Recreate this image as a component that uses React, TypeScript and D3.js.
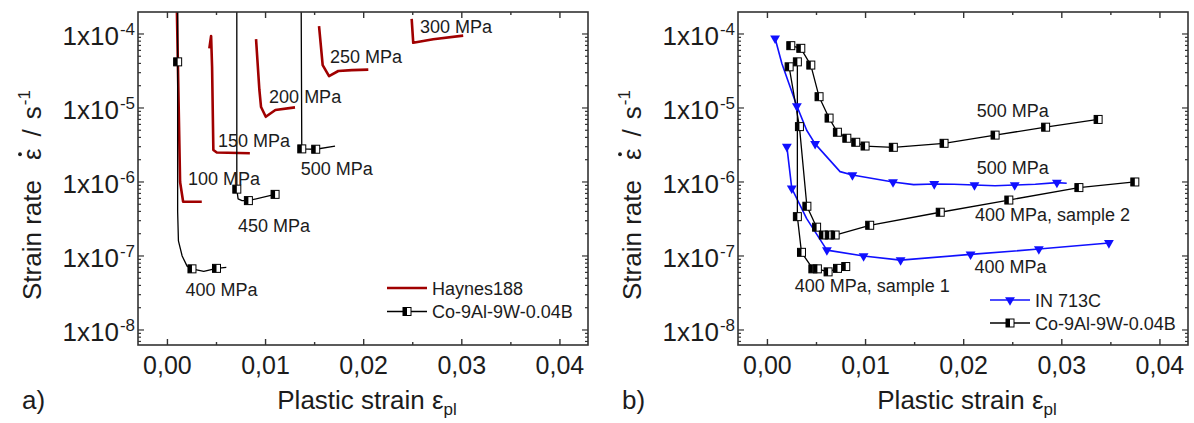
import * as React from 'react';
import * as d3 from 'd3';

const WIDTH = 1194;
const HEIGHT = 423;

// axis ticks
const xTickValues = [0, 0.01, 0.02, 0.03, 0.04];
const xTickLabels = ['0,00', '0,01', '0,02', '0,03', '0,04'];
const yTickValues = [1e-4, 1e-5, 1e-6, 1e-7, 1e-8];
const yTickExponents = ['-4', '-5', '-6', '-7', '-8'];

// a) Haynes188 (lines only)
const haynes100 = [[0.00094, 3e-4], [0.00129, 1.0e-6], [0.0016, 5.4e-7], [0.0035, 5.4e-7]];
const haynes150 = [[0.00427, 6.4e-5], [0.00445, 9.4e-5], [0.00455, 3.6e-5], [0.00468, 2.7e-6], [0.00503, 2.5e-6], [0.0084, 2.45e-6]];
const haynes200 = [[0.00903, 8.5e-5], [0.00937, 1.75e-5], [0.00954, 1.03e-5], [0.01002, 7.6e-6], [0.011, 9.4e-6], [0.013, 1.02e-5]];
const haynes250 = [[0.01545, 1.28e-4], [0.01582, 3.8e-5], [0.01647, 2.7e-5], [0.01741, 3.16e-5], [0.0188, 3.25e-5], [0.02047, 3.3e-5]];
const haynes300 = [[0.02489, 1.6e-4], [0.02505, 7.6e-5], [0.02709, 8.5e-5], [0.03014, 9.5e-5]];

// a) Co-9Al-9W-0.04B
const coA400 = [[0.00104, 5e-4], [0.00104, 4.2e-5], [0.00104, 4e-7], [0.00112, 1.6e-7], [0.0015, 1.0e-7], [0.002, 7.3e-8], [0.0025, 6.7e-8], [0.0037, 6.2e-8], [0.005, 6.8e-8], [0.006, 7.0e-8]];
const coA400Marks = [[0.00104, 4.2e-5], [0.0025, 6.7e-8], [0.005, 6.8e-8]];
const coA450 = [[0.00707, 5e-4], [0.00707, 8.0e-7], [0.0072, 5.9e-7], [0.0076, 5.6e-7], [0.00825, 5.6e-7], [0.01097, 6.8e-7]];
const coA450Marks = [[0.00707, 8.0e-7], [0.00825, 5.6e-7], [0.01097, 6.8e-7]];
const coA500 = [[0.01362, 5e-4], [0.01369, 2.8e-6], [0.01511, 2.77e-6], [0.01708, 3.06e-6]];
const coA500Marks = [[0.01369, 2.8e-6], [0.01511, 2.77e-6]];

// b) IN 713C
const in500 = [[0.00078, 8.75e-5], [0.00147, 4.0e-5], [0.003, 1.06e-5], [0.004, 5.0e-6], [0.00486, 3.27e-6], [0.0074, 1.38e-6], [0.00866, 1.24e-6], [0.0128, 1.0e-6], [0.0149, 9.2e-7], [0.017, 9.4e-7], [0.019, 9.3e-7], [0.0211, 9.1e-7], [0.0232, 8.9e-7], [0.0252, 9.1e-7], [0.0273, 9.3e-7], [0.0295, 9.8e-7], [0.0305, 9.6e-7]];
const in500Marks = [[0.00078, 8.75e-5], [0.003, 1.06e-5], [0.00486, 3.27e-6], [0.00866, 1.24e-6], [0.0128, 1.0e-6], [0.017, 9.4e-7], [0.0211, 9.1e-7], [0.0252, 9.1e-7], [0.0295, 9.8e-7]];
const in400 = [[0.00198, 3.0e-6], [0.00248, 8.2e-7], [0.004, 3.2e-7], [0.00606, 1.2e-7], [0.0098, 1.0e-7], [0.01357, 8.8e-8], [0.0207, 1.05e-7], [0.02766, 1.24e-7], [0.0348, 1.5e-7]];
const in400Marks = [[0.00198, 3.0e-6], [0.00248, 8.2e-7], [0.00606, 1.2e-7], [0.0098, 1.0e-7], [0.01357, 8.8e-8], [0.0207, 1.05e-7], [0.02766, 1.24e-7], [0.0348, 1.5e-7]];

// b) Co-9Al-9W-0.04B
const coB500 = [[0.00238, 6.95e-5], [0.0034, 6.4e-5], [0.00442, 3.8e-5], [0.00526, 1.42e-5], [0.00628, 7.3e-6], [0.00713, 4.7e-6], [0.00809, 3.9e-6], [0.009, 3.44e-6], [0.00995, 3.06e-6], [0.01283, 2.94e-6], [0.018, 3.33e-6], [0.0232, 4.3e-6], [0.02835, 5.5e-6], [0.0337, 7.0e-6]];
const coB400s1 = [[0.00305, 4.2e-5], [0.00305, 3.4e-7], [0.00347, 1.12e-7], [0.00463, 6.7e-8], [0.00509, 6.7e-8], [0.00618, 6.1e-8], [0.00714, 6.8e-8], [0.00798, 7.2e-8]];
const coB400s2 = [[0.00221, 3.6e-5], [0.00326, 5.6e-6], [0.00402, 4.7e-7], [0.00501, 2.45e-7], [0.0057, 1.92e-7], [0.0063, 1.92e-7], [0.0069, 1.92e-7], [0.01042, 2.6e-7], [0.01761, 3.9e-7], [0.0246, 5.7e-7], [0.03174, 8.4e-7], [0.03744, 1.0e-6]];

// annotations: text anchored at [strain, rate]
const notesA = [
  { text: '100 MPa', at: [0.0021, 9.1e-7] },
  { text: '150 MPa', at: [0.00516, 2.97e-6] },
  { text: '200 MPa', at: [0.01036, 1.17e-5] },
  { text: '250 MPa', at: [0.01657, 4.05e-5] },
  { text: '300 MPa', at: [0.02573, 1.03e-4] },
  { text: '400 MPa', at: [0.00185, 2.9e-8] },
  { text: '450 MPa', at: [0.0072, 2.1e-7] },
  { text: '500 MPa', at: [0.01358, 1.24e-6] },
];
const notesB = [
  { text: '500 MPa', at: [0.02132, 7.6e-6] },
  { text: '500 MPa', at: [0.02132, 1.28e-6] },
  { text: '400 MPa, sample 2', at: [0.02115, 2.97e-7] },
  { text: '400 MPa', at: [0.0211, 5.8e-8] },
  { text: '400 MPa, sample 1', at: [0.00278, 3.3e-8] },
];

const FONT = "'Liberation Sans', Arial, sans-serif";
const RED = '#a00000';
const BLUE = '#1010ff';
const AXIS = '#333';
const TEXT = '#1c1c1c';
const TOP = 12;
const BOTTOM = 345;
const PW = 450;

const App = () => {
  const ref = React.useRef(null);

  React.useEffect(() => {
    const svg = d3.select(ref.current);
    svg.selectAll('*').remove();

    const drawPanel = (left, id, label, draw) => {
      const x = d3.scaleLinear().domain([-0.003, 0.04286]).range([left, left + PW]);
      const y = d3.scaleLog().domain([Math.pow(10, -8.203), Math.pow(10, -3.703)]).range([BOTTOM, TOP]);
      const line = d3.line().x(d => x(d[0])).y(d => y(d[1]));

      svg.append('clipPath').attr('id', id).append('rect')
        .attr('x', left).attr('y', TOP).attr('width', PW).attr('height', BOTTOM - TOP);
      const plot = svg.append('g').attr('clip-path', `url(#${id})`);

      // frame
      svg.append('rect').attr('x', left).attr('y', TOP).attr('width', PW).attr('height', BOTTOM - TOP)
        .attr('fill', 'none').attr('stroke', AXIS).attr('stroke-width', 1.6);

      // x ticks top & bottom
      const xt = d3.range(0, 0.0401, 0.005);
      xt.forEach((v, i) => {
        const len = i % 2 === 0 ? 6 : 3;
        svg.append('line').attr('x1', x(v)).attr('x2', x(v)).attr('y1', BOTTOM).attr('y2', BOTTOM - len).attr('stroke', AXIS).attr('stroke-width', 1.4);
        svg.append('line').attr('x1', x(v)).attr('x2', x(v)).attr('y1', TOP).attr('y2', TOP + len).attr('stroke', AXIS).attr('stroke-width', 1.4);
      });
      // y ticks left & right
      const yt = [];
      for (let e = -9; e <= -4; e++) {
        for (let k = 1; k <= 9; k++) {
          const v = k * Math.pow(10, e);
          if (v >= y.domain()[0] && v <= y.domain()[1]) yt.push([v, k === 1]);
        }
      }
      yt.forEach(([v, major]) => {
        const len = major ? 6 : 3;
        svg.append('line').attr('x1', left).attr('x2', left + len).attr('y1', y(v)).attr('y2', y(v)).attr('stroke', AXIS).attr('stroke-width', 1.2);
        svg.append('line').attr('x1', left + PW).attr('x2', left + PW - len).attr('y1', y(v)).attr('y2', y(v)).attr('stroke', AXIS).attr('stroke-width', 1.2);
      });

      // tick labels
      xTickValues.forEach((v, i) => {
        svg.append('text').attr('x', x(v)).attr('y', 374).attr('text-anchor', 'middle')
          .attr('font-family', FONT).attr('font-size', 25).attr('fill', TEXT).text(xTickLabels[i]);
      });
      yTickValues.forEach((v, i) => {
        const t = svg.append('text').attr('x', left - 3).attr('y', y(v) + 11).attr('text-anchor', 'end')
          .attr('font-family', FONT).attr('font-size', 26).attr('fill', TEXT);
        t.append('tspan').text('1x10');
        t.append('tspan').attr('dx', 1).attr('dy', -10).attr('font-size', 17).text(yTickExponents[i]);
      });

      // axis titles
      const xt2 = svg.append('text').attr('x', left + PW / 2 + 4).attr('y', 409).attr('text-anchor', 'middle')
        .attr('font-family', FONT).attr('font-size', 26).attr('fill', TEXT);
      xt2.append('tspan').text('Plastic strain ε');
      xt2.append('tspan').attr('dy', 6).attr('font-size', 17).text('pl');

      const yg = svg.append('g').attr('transform', `translate(${left - 97},300) rotate(-90)`);
      const yt2 = yg.append('text').attr('font-family', FONT).attr('font-size', 26).attr('fill', TEXT);
      yt2.append('tspan').text('Strain rate');
      yt2.append('tspan').attr('dx', 20).text('ε');
      yt2.append('tspan').attr('dx', 12).text('/');
      yt2.append('tspan').attr('dx', 10).text('s');
      yt2.append('tspan').attr('dx', 1).attr('dy', -11).attr('font-size', 17).text('-1');
      // dot above epsilon (time derivative)
      const ext = yt2.node().getExtentOfChar(11);
      yg.append('circle').attr('cx', ext.x + ext.width / 2).attr('cy', -21).attr('r', 1.9).attr('fill', TEXT);

      svg.append('text').attr('x', left - 116).attr('y', 409).attr('font-family', FONT).attr('font-size', 26)
        .attr('fill', TEXT).text(label);

      draw({ x, y, line, plot, left });
    };

    const path = (plot, line, data, color, w) =>
      plot.append('path').datum(data).attr('d', line).attr('fill', 'none')
        .attr('stroke', color).attr('stroke-width', w).attr('stroke-linejoin', 'round');

    const squares = (g, pts, x, y) => {
      const m = g.selectAll(null).data(pts).enter().append('g')
        .attr('transform', d => `translate(${x(d[0])},${y(d[1])})`);
      m.append('rect').attr('x', -4).attr('y', -4).attr('width', 8).attr('height', 8)
        .attr('fill', '#fff').attr('stroke', '#000').attr('stroke-width', 1);
      m.append('rect').attr('x', -4).attr('y', -4).attr('width', 4).attr('height', 8).attr('fill', '#000');
    };

    const triangles = (g, pts, x, y) => {
      g.selectAll(null).data(pts).enter().append('path')
        .attr('d', d3.symbol().type(d3.symbolTriangle).size(42))
        .attr('transform', d => `translate(${x(d[0])},${y(d[1])}) rotate(180)`)
        .attr('fill', BLUE);
    };

    const notes = (list, x, y) => {
      list.forEach(n => {
        svg.append('text').attr('x', x(n.at[0])).attr('y', y(n.at[1])).attr('font-family', FONT)
          .attr('font-size', 18).attr('fill', TEXT).text(n.text);
      });
    };

    const legend = (left, rows) => {
      rows.forEach(r => {
        svg.append('line').attr('x1', left + r.x0).attr('x2', left + r.x0 + 40).attr('y1', r.y).attr('y2', r.y)
          .attr('stroke', r.color).attr('stroke-width', r.w);
        const cx = left + r.x0 + 20;
        if (r.mark === 'sq') squares(svg.append('g'), [[0, 0]], () => cx, () => r.y);
        if (r.mark === 'tri') triangles(svg.append('g'), [[0, 0]], () => cx, () => r.y);
        svg.append('text').attr('x', left + r.x0 + 45).attr('y', r.y + 6.5).attr('font-family', FONT)
          .attr('font-size', 18).attr('fill', TEXT).text(r.label);
      });
    };

    drawPanel(138, 'clipA', 'a)', ({ x, y, line, plot, left }) => {
      [haynes100, haynes150, haynes200, haynes250, haynes300].forEach(d => path(plot, line, d, RED, 2.6));
      [coA400, coA450, coA500].forEach(d => path(plot, line, d, '#000', 1.3));
      [coA400Marks, coA450Marks, coA500Marks].forEach(d => squares(plot, d, x, y));
      notes(notesA, x, y);
      legend(left, [
        { x0: 249, y: 288, color: RED, w: 2.6, label: 'Haynes188' },
        { x0: 249, y: 311.5, color: '#000', w: 1.3, mark: 'sq', label: 'Co-9Al-9W-0.04B' },
      ]);
    });

    drawPanel(738, 'clipB', 'b)', ({ x, y, line, plot, left }) => {
      path(plot, line, in500, BLUE, 1.6);
      path(plot, line, in400, BLUE, 1.6);
      [coB500, coB400s1, coB400s2].forEach(d => path(plot, line, d, '#000', 1.3));
      triangles(plot, in500Marks, x, y);
      triangles(plot, in400Marks, x, y);
      [coB500, coB400s1, coB400s2].forEach(d => squares(plot, d, x, y));
      notes(notesB, x, y);
      legend(left, [
        { x0: 252, y: 300, color: BLUE, w: 1.6, mark: 'tri', label: 'IN 713C' },
        { x0: 252, y: 323, color: '#000', w: 1.3, mark: 'sq', label: 'Co-9Al-9W-0.04B' },
      ]);
    });
  }, []);

  return (
    <svg ref={ref} width={WIDTH} height={HEIGHT}
      style={{ position: 'absolute', left: 0, top: 0, background: '#fff' }} />
  );
};

export default App;
